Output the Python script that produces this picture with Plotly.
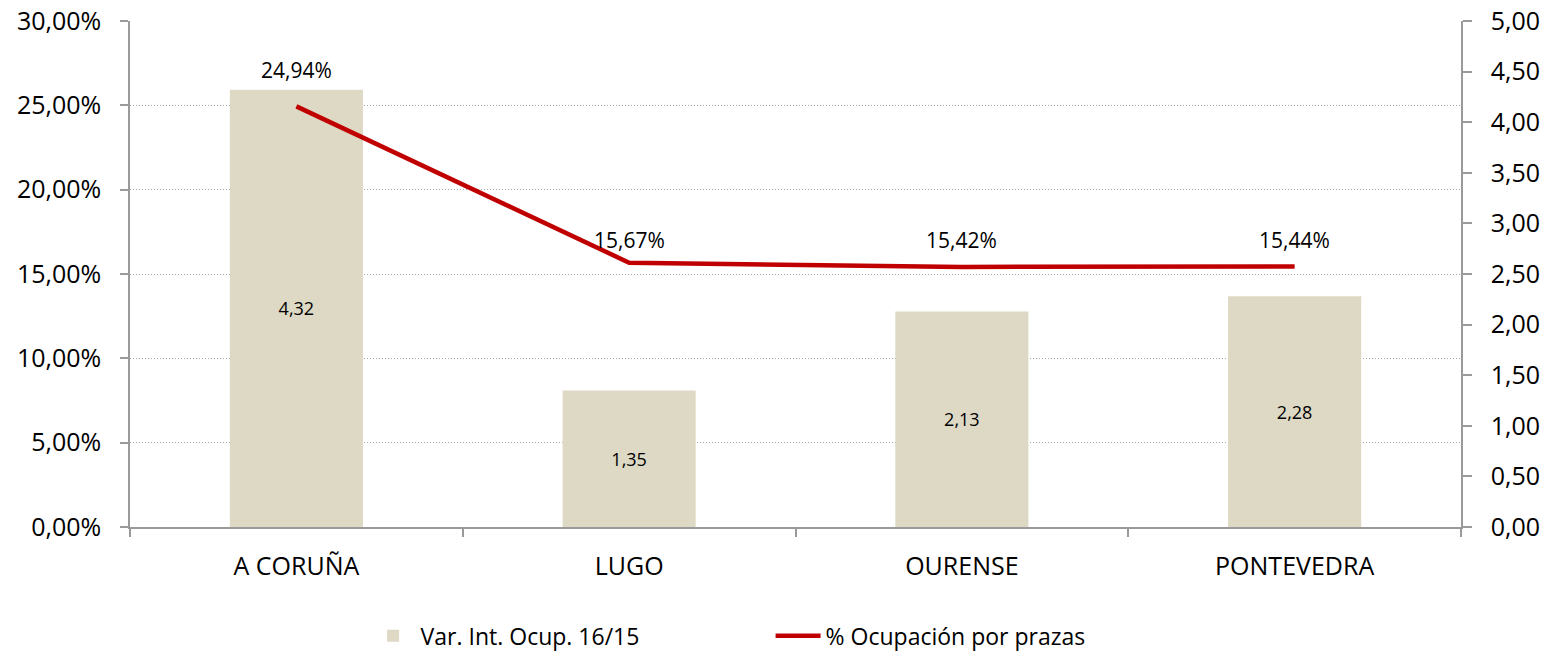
import plotly.graph_objects as go

categories = ["A CORUÑA", "LUGO", "OURENSE", "PONTEVEDRA"]
var_int_ocup = [4.32, 1.35, 2.13, 2.28]
ocupacion_prazas = [0.2494, 0.1567, 0.1542, 0.1544]

bar_name = "Var. Int. Ocup. 16/15"
line_name = "% Ocupación por prazas"

FONT = "Open Sans"
AXIS_COLOR = "#9a9a9a"
label_yshift = [36, 23, 27, 27]

fig = go.Figure()
fig.add_trace(go.Bar(
    x=categories, y=var_int_ocup, name=bar_name, yaxis="y",
    marker=dict(color="#DDD9C4", line=dict(width=0)),
    texttemplate="%{y:.2f}", textposition="inside", insidetextanchor="middle",
    textfont=dict(family=FONT, size=18, color="#000000"),
    hoverinfo="skip",
))
fig.add_trace(go.Scatter(
    x=categories, y=ocupacion_prazas, name=line_name, yaxis="y2",
    mode="lines", line=dict(color="#C00000", width=4.5),
))

for c, v, s in zip(categories, ocupacion_prazas, label_yshift):
    fig.add_annotation(
        x=c, y=v, xref="x", yref="y2", text=f"{v*100:.2f}%".replace(".", ","),
        showarrow=False, yshift=s, font=dict(family=FONT, size=21, color="#000000"),
    )

fig.update_layout(
    width=1553, height=651,
    margin=dict(l=130, r=92, t=21, b=124, autoexpand=False),
    paper_bgcolor="white", plot_bgcolor="white",
    separators=",.",
    font=dict(family=FONT, color="#000000"),
    bargap=0.6,
    showlegend=True,
    legend=dict(
        orientation="h", x=0.177, y=-0.215, xanchor="left", yanchor="middle",
        font=dict(family=FONT, size=23, color="#000000"),
        entrywidth=345, itemwidth=45,
        traceorder="normal",
    ),
    xaxis=dict(
        tickson="boundaries", ticks="outside", ticklen=8, tickwidth=1.5,
        tickcolor=AXIS_COLOR, showline=True, linecolor=AXIS_COLOR, linewidth=1.5,
        showgrid=False, tickfont=dict(family=FONT, size=25, color="#000000"),
        ticklabelstandoff=16, automargin=False,
    ),
    yaxis=dict(
        side="right", range=[0, 5], dtick=0.5, tickformat=".2f",
        ticks="outside", ticklen=9, tickwidth=1.5, tickcolor=AXIS_COLOR,
        showline=True, linecolor=AXIS_COLOR, linewidth=1.5,
        showgrid=False, zeroline=False,
        tickfont=dict(family=FONT, size=25, color="#000000"),
        ticklabelstandoff=14, automargin=False,
    ),
    yaxis2=dict(
        overlaying="y", side="left", range=[0, 0.30], dtick=0.05, tickformat=".2%",
        ticks="outside", ticklen=8, tickwidth=1.5, tickcolor=AXIS_COLOR,
        showline=True, linecolor=AXIS_COLOR, linewidth=1.5,
        showgrid=True, gridcolor="#a6a6a6", griddash="1px,2px", gridwidth=1,
        zeroline=False,
        tickfont=dict(family=FONT, size=25, color="#000000"),
        ticklabelstandoff=14, automargin=False,
    ),
)

fig.write_html(
    "out.html",
    config={"displayModeBar": False},
    post_script="document.body.style.margin='0';document.body.style.overflow='hidden';",
)
